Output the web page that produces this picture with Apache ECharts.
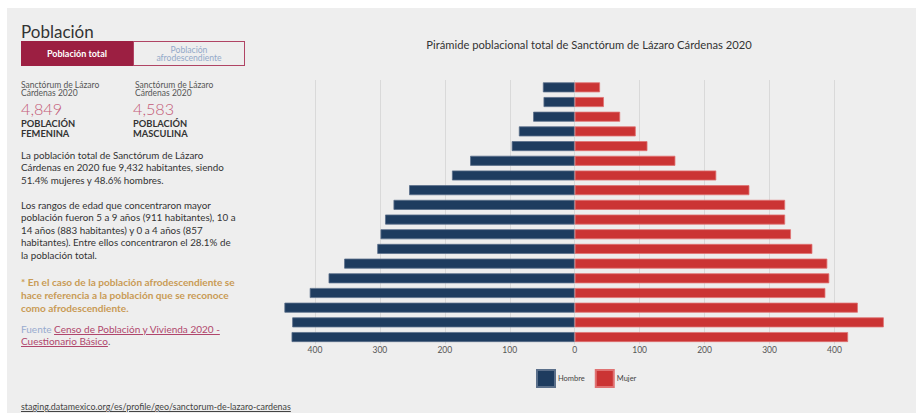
<!DOCTYPE html>
<html><head><meta charset="utf-8">
<script src="https://cdn.jsdelivr.net/npm/echarts@6/dist/echarts.min.js"></script>
<style>
html,body{margin:0;padding:0;background:#fff;}
#bg{position:absolute;left:7px;top:8px;width:909px;height:405px;background:#eeeeee;}
#chart{position:absolute;left:0;top:0;width:916px;height:413px;}
.t{position:absolute;white-space:nowrap;font-family:Lato,"Noto Sans",sans-serif;color:#333;}
</style></head>
<body>
<div id="bg"></div>
<div id="chart"></div>
<div id="panel"></div>
<script>
// ---- data ----
const ageGroups = ["0-4","5-9","10-14","15-19","20-24","25-29","30-34","35-39","40-44","45-49","50-54","55-59","60-64","65-69","70-74","75-79","80-84","85+"];
// Hombre (bottom 0-4 to top 85+)
const hombre = [436,435,447,408,379,355,304,299,292,279,255,189,161,97,86,64,48,49];
// Mujer
const mujer  = [421,476,436,386,392,389,366,333,324,324,269,218,155,112,94,70,45,39];
const xTicks = [-500,-400,-300,-200,-100,0,100,200,300,400,500];
const seriesNames = ["Hombre","Mujer"];
const chartTitle = "Pirámide poblacional total de Sanctórum de Lázaro Cárdenas 2020";

// ---- left panel (HTML text) ----
const panel = document.getElementById('panel');
function add(html, css){ const d=document.createElement('div'); d.className='t'; d.innerHTML=html; d.style.cssText+=css; panel.appendChild(d); }
add('Población','left:21px;top:21px;font-size:17px;color:#333;');
add('','left:21px;top:41px;width:112px;height:25px;background:#9c1f42;box-sizing:border-box;');
add('Población total','left:21px;top:41px;width:112px;height:25px;line-height:25px;text-align:center;font-size:9px;font-weight:bold;color:#fff;');
add('Población<br>afrodescendiente','left:133px;top:41px;width:112px;height:25px;border:1px solid #b04464;box-sizing:border-box;text-align:center;font-size:8.6px;line-height:8.8px;padding-top:3.5px;color:#93a9c9;');
add('Sanctórum de Lázaro<br>Cárdenas 2020','left:21px;top:80.5px;font-size:8.5px;line-height:8.7px;color:#555;');
add('Sanctórum de Lázaro<br>Cárdenas 2020','left:135px;top:80.5px;font-size:8.5px;line-height:8.7px;color:#555;');
add('4,849','left:21px;top:100.9px;font-size:16.2px;font-weight:300;color:#c45a77;line-height:15px;');
add('4,583','left:133px;top:100.9px;font-size:16.2px;font-weight:300;color:#c45a77;line-height:15px;');
add('POBLACIÓN<br>FEMENINA','left:21px;top:119px;font-size:9.3px;line-height:9.5px;font-weight:bold;color:#333;');
add('POBLACIÓN<br>MASCULINA','left:133px;top:119px;font-size:9.3px;line-height:9.5px;font-weight:bold;color:#333;');
add('La población total de Sanctórum de Lázaro<br>Cárdenas en 2020 fue 9,432 habitantes, siendo<br>51.4% mujeres y 48.6% hombres.','left:21px;top:149px;font-size:9.8px;line-height:12.4px;color:#333;');
add('Los rangos de edad que concentraron mayor<br>población fueron 5 a 9 años (911 habitantes), 10 a<br>14 años (883 habitantes) y 0 a 4 años (857<br>habitantes). Entre ellos concentraron el 28.1% de<br>la población total.','left:21px;top:199px;font-size:9.8px;line-height:12.4px;color:#333;');
add('* En el caso de la población afrodescendiente se<br>hace referencia a la población que se reconoce<br>como afrodescendiente.','left:21px;top:276px;font-size:10.1px;line-height:13px;font-weight:bold;color:#c99b55;');
add('<span style="color:#98abcf">Fuente </span><span style="color:#b0466c;text-decoration:underline">Censo de Población y Vivienda 2020 -<br>Cuestionario Básico</span><span style="color:#555">.</span>','left:21px;top:324px;font-size:10px;line-height:11.5px;');
add('<span style="text-decoration:underline">staging.datamexico.org/es/profile/geo/sanctorum-de-lazaro-cardenas</span>','left:21px;top:401px;font-size:8.9px;line-height:11px;color:#444;');

// ---- chart ----
const chart = echarts.init(document.getElementById('chart'), null, {renderer:'svg'});
const font = 'Lato';
chart.setOption({
  backgroundColor: 'transparent',
  animation: false,
  textStyle: {fontFamily: font},
  title: {
    text: chartTitle, left: 584, top: 34, textAlign: 'center',
    textStyle: {fontSize: 11.2, fontWeight: 'normal', color: '#333', fontFamily: font}
  },
  legend: {
    data: seriesNames, left: 536, top: 369, itemWidth: 18, itemHeight: 17, itemGap: 10,
    padding: 0, icon: 'rect',
    textStyle: {fontSize: 7.5, color: '#444', fontFamily: font, padding: [0,0,0,-2]}
  },
  grid: {left: 250, right: 16.6, top: 80, height: 264.4, containLabel: false},
  xAxis: {
    type: 'value', min: xTicks[0], max: xTicks[xTicks.length-1], interval: 100,
    axisLine: {show: false}, axisTick: {show: false},
    axisLabel: {formatter: v => Math.abs(v), fontSize: 8.5, color: '#555', margin: 1, showMinLabel: false, showMaxLabel: false},
    splitLine: {show: true, showMinLine: false, showMaxLine: false, lineStyle: {color: '#d9d9d9', width: 1}}
  },
  yAxis: {
    type: 'category', data: ageGroups, show: false
  },
  series: [
    {name: seriesNames[0], type: 'bar', stack: 'p', barWidth: 10,
     data: hombre.map(v => -v),
     itemStyle: {color: '#1e3c5f', borderColor: '#5a6f8a', borderWidth: 0.8}},
    {name: seriesNames[1], type: 'bar', stack: 'p', barWidth: 10,
     data: mujer,
     itemStyle: {color: '#cb3434', borderColor: '#e07272', borderWidth: 0.8}}
  ]
});
</script>
</body></html>
